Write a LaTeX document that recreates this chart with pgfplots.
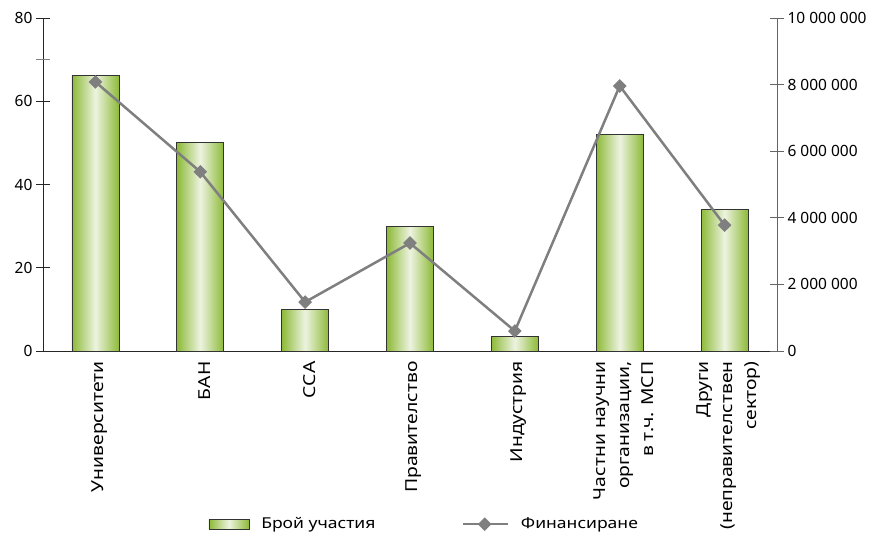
\documentclass[border=0pt]{standalone}
\usepackage{pgfplots}
\pgfplotsset{compat=1.18}
\usepackage{fontspec}
\setmainfont{Noto Sans}
\newfontfamily\lblfont[FakeStretch=1.17]{Noto Sans}
\definecolor{barG}{HTML}{8DBA38}
\definecolor{barL}{HTML}{EDF3E0}
\definecolor{lineG}{HTML}{7F7F7F}
\newcommand{\lf}{\fontsize{15.5bp}{18bp}\selectfont}
\newcommand{\xf}{\lblfont\fontsize{16.5bp}{24bp}\selectfont}
\newcommand{\gf}{\lblfont\fontsize{15bp}{18bp}\selectfont}
\pgfplotsset{
  linelegend/.style={legend image code/.code={\draw[mark repeat=2,mark phase=2,##1] plot coordinates {(0bp,0bp)(22bp,0bp)(45bp,0bp)};}},
  barlegend/.style={legend image code/.code={\draw[##1] (0bp,-5bp) rectangle (40bp,5bp);}},
  gbar/.style={ybar, bar shift=0pt, bar width=47bp, draw=black!80, line width=0.8bp,
    left color=barG, right color=barG, middle color=barL, forget plot},
}
\begin{document}
\begin{tikzpicture}
\begin{axis}[name=ax, at={(0,0)}, anchor=south west,
  scale only axis, width=734bp, height=333bp,
  xmin=-0.5, xmax=6.5, ymin=0, ymax=80,
  axis y line*=left, axis x line*=bottom,
  axis line style={black!85, line width=0.8bp},
  ytick={0,20,40,60,80},
  extra y ticks={70}, extra y tick labels={},
  extra y tick style={tick style={lineG}},
  tick align=center, major tick length=14bp,
  tick style={black!85, line width=0.8bp},
  xtick={0,...,6},
  xtick style={draw=none},
  xticklabels={Университети, БАН, ССА, Правителство, Индустрия, {Частни научни\\организации,\\в т.ч. МСП}, {Други\\(неправителствен\\сектор)}},
  xticklabel style={rotate=90, anchor=east, align=right, font=\xf, yshift=-4bp},
  extra x ticks={0.5,1.5,2.5,3.5,4.5,5.5}, extra x tick labels={},
  extra x tick style={tick align=outside, major tick length=7bp, tick style={draw=black!85, line width=0.8bp}},
  yticklabel style={font=\lf},
  /pgf/number format/assume math mode=true,
  legend columns=2,
  legend style={draw=none, fill=none, font=\gf, at={(0.5195,-0.52)}, anchor=center,
    /tikz/every even column/.append style={column sep=84bp},
    /tikz/every odd column/.append style={column sep=10bp}},
]
\addplot[gbar] coordinates {(0,66.3)};
\addplot[gbar] coordinates {(1,50)};
\addplot[gbar] coordinates {(2,10)};
\addplot[gbar] coordinates {(3,30)};
\addplot[gbar] coordinates {(4,3.4)};
\addplot[gbar] coordinates {(5,52)};
\addplot[gbar] coordinates {(6,34)};
\addlegendimage{draw=black!80, line width=0.6bp, left color=barG, right color=barG, middle color=barL, barlegend}
\addlegendentry{Брой участия}
\addlegendimage{lineG, line width=2.5bp, mark=square*, mark size=3.6bp, mark options={rotate=45, fill=lineG}, linelegend}
\addlegendentry{Финансиране}
\end{axis}
\begin{axis}[at={(0,0)}, anchor=south west,
  scale only axis, width=734bp, height=333bp,
  xmin=-0.5, xmax=6.5, ymin=0, ymax=10000000,
  axis y line*=right, axis x line=none,
  axis line style={lineG!80!black, line width=0.8bp},
  ytick={0,2000000,4000000,6000000,8000000,10000000},
  scaled y ticks=false,
  tick align=center, major tick length=14bp,
  tick style={lineG!80!black, line width=0.8bp},
  yticklabel style={font=\lf},
  /pgf/number format/assume math mode=true,
  /pgf/number format/.cd, fixed, 1000 sep={\ },
]
\addplot[lineG, line width=2.5bp, mark=square*, mark size=3.6bp, mark options={solid, rotate=45, fill=lineG}]
  coordinates {(0,8080000)(1,5380000)(2,1470000)(3,3240000)(4,600000)(5,7960000)(6,3780000)};
\end{axis}
\pgfresetboundingbox
\path[use as bounding box] (-43bp,-182bp) rectangle (835bp,351bp);
\end{tikzpicture}
\end{document}
